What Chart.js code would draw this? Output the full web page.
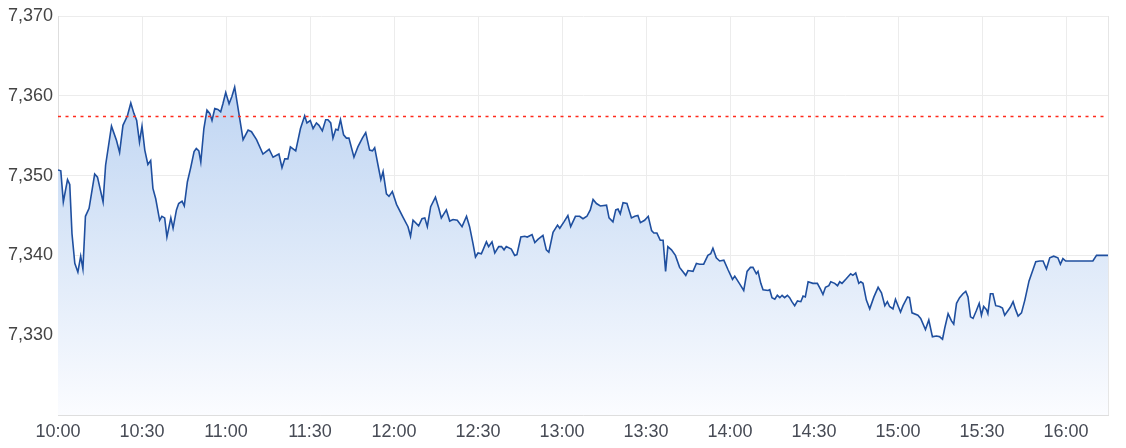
<!DOCTYPE html>
<html>
<head>
<meta charset="utf-8">
<script src="https://cdn.jsdelivr.net/npm/chart.js@4/dist/chart.umd.min.js"></script>
<style>
html,body{margin:0;padding:0;background:#fff;}
#wrap{width:1126px;height:448px;}
</style>
</head>
<body>
<div id="wrap"><canvas id="c" width="1126" height="448"></canvas></div>
<script>
// minutes since 10:00
const minutes = [0,1,1.9,3.4,4.2,5,6,7.1,8.1,8.9,9.8,11.1,13.1,14.1,16.1,17,19.1,20.9,22,23.2,24.8,26,27.1,28.1,29.1,30,31,32.1,33.1,33.9,34.9,36.3,37.1,38.1,38.9,40.3,41.1,42.3,43.1,44.3,45.1,46.2,47.4,48.6,49.4,50.3,51,52.1,53.2,54.2,55,56,57.1,58.1,58.9,59.9,61.1,62.1,63.1,64.6,66.1,67.9,69.1,70.9,73.2,75.4,76.8,78.9,80,81,82.1,83,84.9,86.6,88.1,88.9,90.1,91.1,92.3,93.2,94.4,95.6,96.4,97.4,98.2,99.2,100,100.9,102,103,103.9,105.7,107.1,108.7,109.9,111.3,112.3,113.1,114.3,115.3,116.1,117.3,118.2,119.4,120.9,123.2,125,125.9,126.8,128.8,130,131,131.9,133.1,134.8,136,136.9,138.7,139.9,141.1,142.6,144.3,145.9,147,148.2,149.1,150,151.2,153,153.8,155,156,157.4,158.4,159.3,160.1,161.9,163.1,163.9,165.3,166.7,167.6,169.3,170.3,171.4,173.2,174.4,175.3,176.8,178.4,179.2,180.7,182.1,183.1,184.8,186.3,187.5,188.9,190.1,191.1,192.3,193.7,195.9,196.8,198.2,199.2,200,200.8,201.8,203.2,204.8,206,207.1,208,209.5,210.8,212,212.8,213.9,215.1,216.1,217,217.8,219.1,220.5,222,224.2,225,226.8,228,229.2,230.6,232.1,233.1,233.9,235.1,236.3,237.8,239.3,240.9,241.7,243.5,244.9,246.1,247.3,248.2,249.4,250,251,251.8,253.6,254.2,255,256,256.9,257.8,258.6,259.5,260.5,261.3,262.1,263.1,264.1,265.3,266.1,266.9,267.9,269.6,271.2,272.4,273.2,274.1,275.3,276,277.4,278.4,279.2,280,281.6,283.1,283.9,284.9,286,286.7,287.5,288.7,289.9,291.4,292.9,294.1,295.3,296.2,297,298.2,299.1,300,300.9,301.8,303.4,304.1,305,307.1,308.1,309.8,311,312.3,313.7,314.9,315.9,316.7,317.9,319.1,319.9,320.9,322,323.2,324.2,325,325.9,326.8,328,329,329.8,330.6,331.6,332.1,333,333.9,334.9,336.3,337.3,338.1,339.3,340.1,341.1,342,342.9,344.1,345.3,346.8,348.2,349.2,350.6,351.8,353,354.2,355.6,357.1,358,358.9,359.9,369.6,370.9,375];
const prices = [7350.7,7350.6,7346.7,7349.5,7348.9,7342.7,7339.0,7337.9,7339.9,7338.3,7344.9,7345.9,7350.2,7349.8,7346.7,7351.3,7356.2,7354.4,7352.9,7356.3,7357.5,7359.1,7357.8,7356.9,7354.2,7356.2,7353.2,7351.4,7351.9,7348.4,7347.1,7344.4,7344.9,7344.7,7342.3,7344.7,7343.4,7345.7,7346.5,7346.8,7346.2,7349.2,7351.0,7353.0,7353.4,7353.1,7351.7,7355.9,7358.2,7357.8,7356.9,7358.4,7358.3,7358.0,7359.0,7360.4,7359.0,7359.9,7361.1,7357.8,7354.5,7355.7,7355.5,7354.5,7352.7,7353.3,7352.3,7352.7,7351.0,7352.1,7352.1,7353.6,7353.1,7355.9,7357.5,7356.6,7356.9,7355.9,7356.6,7356.3,7355.6,7357.0,7357.0,7356.6,7354.7,7355.8,7355.7,7357.0,7355.1,7354.7,7354.7,7352.3,7353.6,7354.7,7355.4,7353.2,7353.1,7353.5,7351.3,7349.5,7350.5,7347.7,7347.4,7348.0,7346.4,7344.8,7343.6,7342.4,7344.4,7343.7,7344.6,7344.7,7343.6,7346.1,7347.3,7345.9,7344.7,7345.7,7344.3,7344.5,7344.4,7343.6,7344.9,7343.6,7341.5,7339.8,7340.3,7340.2,7341.7,7341.1,7341.7,7340.3,7341.1,7341.1,7340.7,7341.1,7340.8,7340.0,7340.1,7342.3,7342.4,7342.3,7342.6,7341.6,7342.0,7342.5,7340.7,7340.4,7342.9,7343.8,7343.4,7344.2,7345.0,7343.6,7344.9,7344.9,7344.6,7344.9,7345.7,7347.0,7346.5,7346.2,7346.3,7344.7,7344.2,7345.7,7345.8,7345.2,7346.6,7346.5,7344.7,7344.9,7345.0,7344.1,7344.4,7344.9,7343.1,7342.8,7342.8,7341.9,7341.9,7338.0,7341.1,7340.7,7340.0,7338.5,7337.5,7338.1,7338.0,7339.0,7338.9,7338.9,7340.0,7340.2,7340.9,7339.7,7339.3,7339.4,7338.2,7337.0,7337.4,7336.4,7335.6,7338.0,7338.5,7338.5,7337.7,7338.0,7336.5,7335.7,7335.6,7335.7,7334.7,7334.5,7335.0,7334.7,7335.0,7334.7,7335.0,7334.7,7334.2,7333.7,7334.3,7334.2,7334.9,7334.8,7336.7,7336.5,7336.5,7335.7,7335.1,7336.0,7336.2,7336.7,7336.5,7336.2,7336.7,7336.5,7337.1,7337.7,7337.5,7337.8,7336.5,7336.7,7336.5,7334.4,7333.3,7334.8,7336.0,7335.3,7333.7,7334.2,7333.6,7333.3,7334.5,7333.7,7332.9,7333.7,7334.8,7334.7,7332.8,7332.5,7332.1,7330.7,7331.9,7329.8,7329.9,7329.8,7329.5,7330.9,7332.7,7331.8,7331.4,7334.0,7334.7,7335.2,7335.5,7334.8,7332.3,7332.1,7333.1,7334.0,7332.5,7333.6,7333.2,7332.7,7335.2,7335.2,7333.7,7333.6,7333.4,7332.5,7333.1,7333.5,7334.2,7333.2,7332.4,7332.8,7334.4,7336.8,7338.2,7339.2,7339.3,7339.3,7338.3,7339.7,7339.9,7339.7,7338.9,7339.6,7339.3,7339.3,7340.0,7340.0];
const prevClose = 7357.4;
const timeLabels = ['10:00','10:30','11:00','11:30','12:00','12:30','13:00','13:30','14:00','14:30','15:00','15:30','16:00'];
const yMin = 7320, yMax = 7370, yStep = 10;
const xMax = 375;

Chart.defaults.font.family = "'Liberation Sans', Arial, sans-serif";
Chart.defaults.font.size = 18;
Chart.defaults.color = '#444';

const pricePoints = minutes.map((m, i) => ({x: m, y: prices[i]}));
const closePoints = [{x: 0, y: prevClose}, {x: xMax, y: prevClose}];

new Chart(document.getElementById('c'), {
  type: 'line',
  data: {
    datasets: [
      {
        data: pricePoints,
        borderColor: '#1f4f9f',
        borderWidth: 1.6,
        pointRadius: 0,
        tension: 0,
        fill: 'start',
        backgroundColor: (ctx) => {
          const ca = ctx.chart.chartArea;
          if (!ca) return 'rgba(180,205,240,0.6)';
          const g = ctx.chart.ctx.createLinearGradient(0, ca.top, 0, ca.bottom);
          g.addColorStop(0, '#b3cdf0');
          g.addColorStop(0.5, '#d6e4f7');
          g.addColorStop(1, '#fbfcff');
          return g;
        },
        order: 2
      },
      {
        data: closePoints,
        borderColor: '#ff2b1c',
        borderWidth: 1.5,
        borderDash: [3, 4.5],
        pointRadius: 0,
        fill: false,
        order: 1
      }
    ]
  },
  options: {
    responsive: false,
    animation: false,
    events: [],
    layout: { padding: { top: 16, right: 18, left: 0, bottom: 0 } },
    plugins: { legend: { display: false }, tooltip: { enabled: false } },
    scales: {
      x: {
        type: 'linear',
        min: 0,
        max: xMax,
        grid: { color: '#ececec', drawTicks: false },
        border: { color: '#dedede' },
        ticks: {
          stepSize: 30,
          includeBounds: false,
          padding: 6,
          autoSkip: false,
          maxRotation: 0,
          color: '#474b55',
          callback: (v) => {
            const k = Math.round(v / 30);
            return Math.abs(v - k * 30) < 0.01 && timeLabels[k] ? timeLabels[k] : '';
          }
        },
        afterFit: (s) => { s.height = 33; }
      },
      y: {
        min: yMin,
        max: yMax,
        grid: { color: '#ececec', drawTicks: false },
        border: { color: '#dedede' },
        ticks: {
          stepSize: yStep,
          padding: 5,
          color: '#444',
          callback: (v) => (Math.abs(v - yMin) < 0.01 ? '' : v.toLocaleString('en-US'))
        },
        afterFit: (s) => { s.width = 58; }
      }
    }
  },
  plugins: [{
    id: 'rightBorder',
    afterDraw(chart) {
      const {ctx, chartArea} = chart;
      ctx.save();
      ctx.strokeStyle = '#e6e6e6';
      ctx.lineWidth = 1;
      ctx.beginPath();
      ctx.moveTo(Math.round(chartArea.right) + 0.5, chartArea.top);
      ctx.lineTo(Math.round(chartArea.right) + 0.5, chartArea.bottom);
      ctx.stroke();
      ctx.restore();
    }
  }]
});
</script>
</body>
</html>
